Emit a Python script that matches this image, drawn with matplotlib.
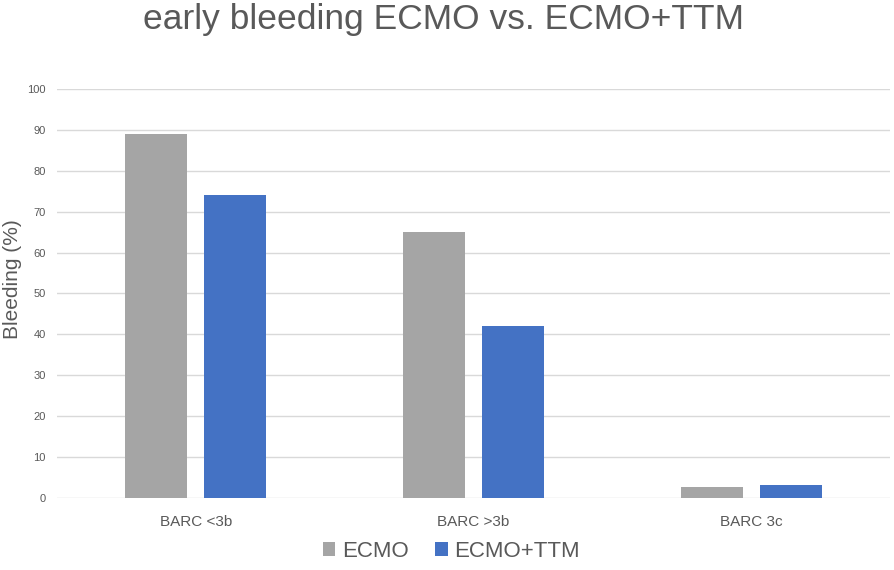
import matplotlib
matplotlib.use("Agg")
import matplotlib.pyplot as plt
import numpy as np

categories = ["BARC <3b", "BARC >3b", "BARC 3c"]
series_names = ["ECMO", "ECMO+TTM"]
ecmo = [89, 65, 2.7]
ecmo_ttm = [74, 42, 3.2]
yticks = [0, 10, 20, 30, 40, 50, 60, 70, 80, 90, 100]

plt.rcParams['font.family'] = ['Liberation Sans', 'DejaVu Sans']
text_color = "#595959"

fig = plt.figure(figsize=(8.94, 5.70), dpi=100)
ax = fig.add_axes([0.0638, 0.1263, 0.9317, 0.7176])

x = np.arange(len(categories))
w = 0.223
off = 0.1425
ax.bar(x - off, ecmo, width=w, color="#A5A5A5", label=series_names[0], zorder=3)
ax.bar(x + off, ecmo_ttm, width=w, color="#4472C4", label=series_names[1], zorder=3)

ax.set_xlim(-0.5, 2.5)
ax.set_ylim(0, 100)
ax.set_yticks(yticks)
ax.set_yticklabels([str(t) for t in yticks], fontsize=8, color=text_color)
ax.set_xticks(x)
ax.set_xticklabels(categories, fontsize=11, color=text_color)
ax.tick_params(axis="both", length=0)
ax.tick_params(axis="y", pad=8)
ax.tick_params(axis="x", pad=12)
ax.grid(axis="y", color="#D9D9D9", linewidth=1, zorder=0)
for s in ax.spines.values():
    s.set_visible(False)

fig.text(0.014, 0.51, "Bleeding (%)", rotation=90, ha="center", va="center",
         fontsize=15, color=text_color)
fig.text(0.496, 0.966, "early bleeding ECMO vs. ECMO+TTM", ha="center", va="center",
         fontsize=25.5, color=text_color)

leg = fig.legend(loc="center", bbox_to_anchor=(0.505, 0.033), ncol=2, frameon=False,
                 fontsize=16, handlelength=0.55, handleheight=0.55, handletextpad=0.3,
                 columnspacing=1.2)
for t in leg.get_texts():
    t.set_color(text_color)

fig.savefig("out.png", dpi=100)
